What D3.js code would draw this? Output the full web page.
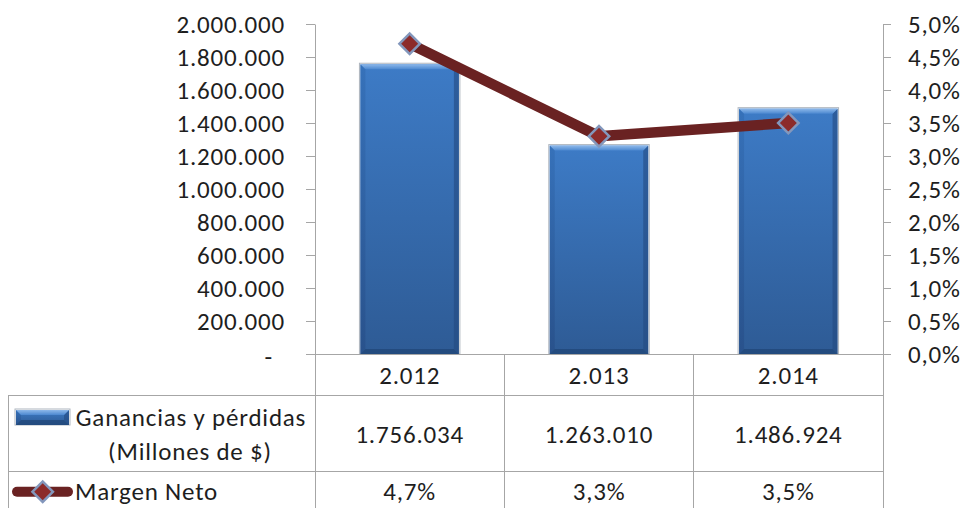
<!DOCTYPE html>
<html>
<head>
<meta charset="utf-8">
<script src="https://cdn.jsdelivr.net/npm/d3@7"></script>
<style>
  html, body { margin: 0; padding: 0; background: #fff; }
  svg { display: block; }
  text { font-family: Carlito, Calibri, Lato, sans-serif; fill: #1e1e1e; letter-spacing: 0.8px; }
</style>
</head>
<body>
<svg id="chart" width="963" height="508"></svg>
<script>
// ---- data ----
const categories = ["2.012", "2.013", "2.014"];
const ganancias = [1756034, 1263010, 1486924];
const margen = [0.047, 0.033, 0.035];
const leftTicks = [0, 200000, 400000, 600000, 800000, 1000000, 1200000, 1400000, 1600000, 1800000, 2000000];
const rightTicks = [0, 0.005, 0.01, 0.015, 0.02, 0.025, 0.03, 0.035, 0.04, 0.045, 0.05];
const seriesNames = ["Ganancias y pérdidas", "(Millones de $)", "Margen Neto"];

// ---- layout ----
const W = 963, H = 508;
const plotL = 315, plotR = 883, plotT = 24, plotB = 354;
const row1B = 395, row2B = 471, tableL = 8;
const FS = 25;
const FONT = 'Carlito, Calibri, Lato, sans-serif';

const loc = d3.formatLocale({decimal: ",", thousands: ".", grouping: [3], currency: ["$", ""]});
const fmtNum = loc.format(",.0f");
const fmtPct = loc.format(".1%");

const svg = d3.select("#chart");

const x = d3.scaleBand().domain(categories).range([plotL, plotR]).padding(0);
const yL = d3.scaleLinear().domain([0, 2000000]).range([plotB, plotT]);
const yR = d3.scaleLinear().domain([0, 0.05]).range([plotB, plotT]);

// gradients
const defs = svg.append("defs");
const gMain = defs.append("linearGradient").attr("id", "barMain").attr("x1", 0).attr("y1", 0).attr("x2", 0).attr("y2", 1);
gMain.append("stop").attr("offset", "0%").attr("stop-color", "#3D7BC6");
gMain.append("stop").attr("offset", "100%").attr("stop-color", "#2E5B95");
const gTop = defs.append("linearGradient").attr("id", "barTop").attr("x1", 0).attr("y1", 0).attr("x2", 0).attr("y2", 1);
gTop.append("stop").attr("offset", "0%").attr("stop-color", "#8DB8EA");
gTop.append("stop").attr("offset", "100%").attr("stop-color", "#4C88D0");
const gSide = defs.append("linearGradient").attr("id", "barSide").attr("x1", 0).attr("y1", 0).attr("x2", 0).attr("y2", 1);
gSide.append("stop").attr("offset", "0%").attr("stop-color", "#3570B8");
gSide.append("stop").attr("offset", "100%").attr("stop-color", "#28508A");

const gridColor = "#A6A6A6";

// ---- bars ----
const barW = x.bandwidth() * 0.52;
const bev = 5;
function drawBevelBar(g, x0, y0, w, h) {
  g.append("rect").attr("x", x0 - 1).attr("y", y0 - 1).attr("width", w + 2).attr("height", h + 1)
    .attr("fill", "none").attr("stroke", "#9AA3AE").attr("stroke-width", 1).attr("opacity", 0.8);
  g.append("rect").attr("x", x0).attr("y", y0).attr("width", w).attr("height", h).attr("fill", "url(#barMain)");
  g.append("path").attr("d", `M${x0},${y0} L${x0 + bev},${y0 + bev} L${x0 + bev},${y0 + h - bev} L${x0},${y0 + h} Z`)
    .attr("fill", "url(#barSide)").attr("opacity", 0.85);
  g.append("path").attr("d", `M${x0 + w},${y0} L${x0 + w - bev},${y0 + bev} L${x0 + w - bev},${y0 + h - bev} L${x0 + w},${y0 + h} Z`)
    .attr("fill", "#234A80").attr("opacity", 0.6);
  g.append("path").attr("d", `M${x0},${y0 + h} L${x0 + bev},${y0 + h - bev} L${x0 + w - bev},${y0 + h - bev} L${x0 + w},${y0 + h} Z`)
    .attr("fill", "#1F4475").attr("opacity", 0.7);
  g.append("path").attr("d", `M${x0},${y0} L${x0 + w},${y0} L${x0 + w - bev},${y0 + bev} L${x0 + bev},${y0 + bev} Z`)
    .attr("fill", "url(#barTop)");
}
const barsG = svg.append("g");
categories.forEach((c, i) => {
  const x0 = x(c) + (x.bandwidth() - barW) / 2;
  const y0 = yL(ganancias[i]);
  drawBevelBar(barsG.append("g"), x0, y0, barW, yL(0) - y0);
});

// ---- axes ----
const axL = svg.append("g").attr("transform", `translate(${plotL},0)`)
  .call(d3.axisLeft(yL).tickValues(leftTicks).tickSize(9).tickSizeOuter(0).tickPadding(21)
    .tickFormat(d => d === 0 ? "-" : fmtNum(d)));
axL.selectAll("path, line").attr("stroke", gridColor);
axL.selectAll("text").style("font-size", FS + "px").attr("fill", "#1e1e1e").style("font-family", FONT);
axL.selectAll("text").filter(d => d === 0).attr("dx", -12).attr("dy", "0.42em");

const axR = svg.append("g").attr("transform", `translate(${plotR},0)`)
  .call(d3.axisRight(yR).tickValues(rightTicks).tickSize(8).tickSizeOuter(0).tickPadding(17)
    .tickFormat(fmtPct));
axR.selectAll("path, line").attr("stroke", gridColor);
axR.selectAll("text").style("font-size", FS + "px").attr("fill", "#1e1e1e").style("font-family", FONT);

// ---- table grid ----
const grid = svg.append("g").attr("stroke", gridColor).attr("stroke-width", 1).attr("shape-rendering", "crispEdges");
grid.append("line").attr("x1", plotL - 9).attr("x2", plotR + 8).attr("y1", plotB).attr("y2", plotB);
grid.append("line").attr("x1", tableL).attr("x2", plotR).attr("y1", row1B).attr("y2", row1B);
grid.append("line").attr("x1", tableL).attr("x2", plotR).attr("y1", row2B).attr("y2", row2B);
grid.append("line").attr("x1", tableL).attr("x2", tableL).attr("y1", row1B).attr("y2", H);
grid.append("line").attr("x1", plotL).attr("x2", plotL).attr("y1", plotB).attr("y2", H);
categories.forEach(c => {
  const xr = x(c) + x.bandwidth();
  grid.append("line").attr("x1", xr).attr("x2", xr).attr("y1", plotB).attr("y2", H);
});

// ---- line series ----
const line = d3.line().x((d, i) => x(categories[i]) + x.bandwidth() / 2).y(d => yR(d));
svg.append("path").datum(margen).attr("d", line)
  .attr("fill", "none").attr("stroke", "#6A2222").attr("stroke-width", 10.5).attr("stroke-linejoin", "round");

const diamond = d3.symbol().type(d3.symbolSquare).size(210);
function drawDiamond(g, cx, cy) {
  g.append("path").attr("d", diamond()).attr("transform", `translate(${cx},${cy}) rotate(45)`)
    .attr("fill", "#8C2B2A").attr("stroke", "#8397BC").attr("stroke-width", 2.5);
}
const mk = svg.append("g");
margen.forEach((m, i) => drawDiamond(mk, x(categories[i]) + x.bandwidth() / 2, yR(m)));

// ---- table text ----
const tt = svg.append("g").style("font-size", FS + "px").style("font-family", FONT).attr("text-anchor", "middle");
categories.forEach((c, i) => {
  const cx = x(c) + x.bandwidth() / 2;
  tt.append("text").attr("x", cx).attr("y", 383.5).text(c);
  tt.append("text").attr("x", cx).attr("y", 442.7).text(fmtNum(ganancias[i]));
  tt.append("text").attr("x", cx).attr("y", 500).text(fmtPct(margen[i]));
});

// legend cells
const legG = svg.append("g");
drawBevelBar(legG.append("g"), 16, 410, 53, 15);
tt.append("text").attr("x", 191).attr("y", 426).text(seriesNames[0]);
tt.append("text").attr("x", 190).attr("y", 460).text(seriesNames[1]);

legG.append("line").attr("x1", 17).attr("x2", 68).attr("y1", 491.7).attr("y2", 491.7)
  .attr("stroke", "#6A2222").attr("stroke-width", 10).attr("stroke-linecap", "round");
drawDiamond(legG, 42.7, 491.7);
svg.append("text").attr("x", 75).attr("y", 500).attr("text-anchor", "start")
  .style("font-size", FS + "px").style("font-family", FONT).text(seriesNames[2]);
</script>
</body>
</html>
